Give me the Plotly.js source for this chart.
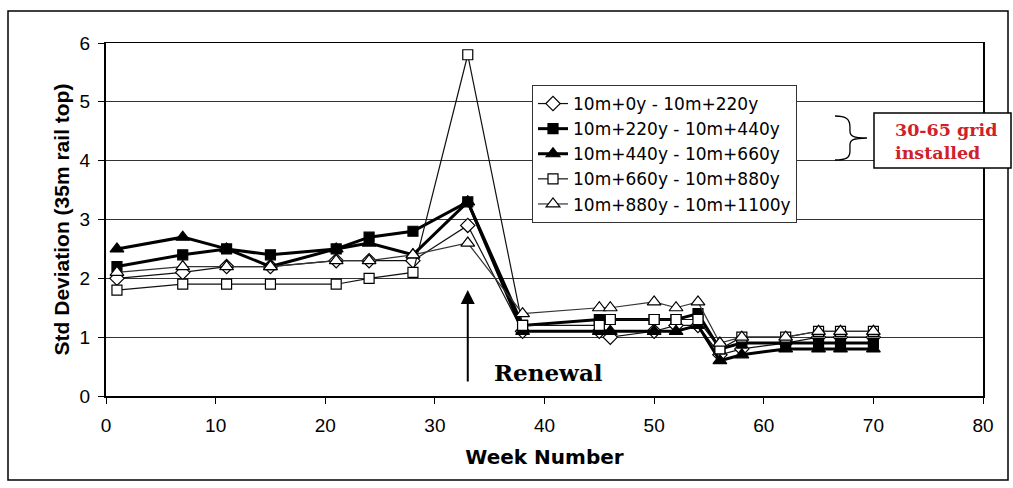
<!DOCTYPE html>
<html>
<head>
<meta charset="utf-8">
<script src="https://cdn.plot.ly/plotly-3.0.1.min.js"></script>
<style>html,body{margin:0;padding:0;background:#fff;}#chart{width:1013px;height:488px;}</style>
</head>
<body>
<div id="chart"></div>
<script>
// ---- data ----
var weeks = [1, 7, 11, 15, 21, 24, 28, 33, 38, 45, 46, 50, 52, 54, 56, 58, 62, 65, 67, 70];
var seriesNames = ["10m+0y - 10m+220y", "10m+220y - 10m+440y", "10m+440y - 10m+660y", "10m+660y - 10m+880y", "10m+880y - 10m+1100y"];
var s0to220    = [2.0, 2.1, 2.2, 2.2, 2.3, 2.3, 2.3, 2.9, 1.1, 1.1, 1.0, 1.1, 1.2, 1.2, 0.7, 0.8, 0.9, 1.0, 1.0, 1.0];
var s220to440  = [2.2, 2.4, 2.5, 2.4, 2.5, 2.7, 2.8, 3.3, 1.2, 1.3, 1.3, 1.3, 1.3, 1.4, 0.8, 0.9, 0.9, 0.9, 0.9, 0.9];
var s440to660  = [2.5, 2.7, 2.5, 2.2, 2.5, 2.6, 2.4, 3.3, 1.1, 1.1, 1.1, 1.1, 1.1, 1.2, 0.6, 0.7, 0.8, 0.8, 0.8, 0.8];
var s660to880  = [1.8, 1.9, 1.9, 1.9, 1.9, 2.0, 2.1, 5.8, 1.2, 1.2, 1.3, 1.3, 1.3, 1.3, 0.8, 1.0, 1.0, 1.1, 1.1, 1.1];
var s880to1100 = [2.1, 2.2, 2.2, 2.2, 2.3, 2.3, 2.4, 2.6, 1.4, 1.5, 1.5, 1.6, 1.5, 1.6, 0.9, 1.0, 1.0, 1.1, 1.1, 1.1];
var xTicks = [0, 10, 20, 30, 40, 50, 60, 70, 80];
var yTicks = [0, 1, 2, 3, 4, 5, 6];
var renewalWeek = 33;

// ---- layout helpers (plot area in pixels) ----
var W = 1013, H = 488, L = 106, R = 983, T = 43, B = 396;
function px(x) { return (x - L) / (R - L); }
function py(y) { return (B - y) / (B - T); }

var styles = [
  {symbol: 'diamond', fill: '#fff', size: 11, lw: 1.2, lc: '#111'},
  {symbol: 'square', fill: '#000', size: 10, lw: 3, lc: '#000'},
  {symbol: 'triangle-up', fill: '#000', size: 12, lw: 3, lc: '#000'},
  {symbol: 'square', fill: '#fff', size: 10, lw: 1.2, lc: '#111'},
  {symbol: 'triangle-up', fill: '#fff', size: 12, lw: 1.2, lc: '#333'}
];
var allSeries = [s0to220, s220to440, s440to660, s660to880, s880to1100];

var traces = allSeries.map(function (vals, i) {
  var st = styles[i];
  return {
    type: 'scatter', mode: 'lines+markers',
    x: weeks, y: vals, name: seriesNames[i],
    line: {color: st.lc, width: st.lw},
    marker: {symbol: st.symbol, size: st.size, color: st.fill, line: {color: '#000', width: 1.2}}
  };
});

// brace path in pixel coords -> paper
function P(x, y) { return px(x).toFixed(4) + ',' + py(y).toFixed(4); }
var brace = 'M' + P(835, 116) + ' C' + P(846, 116) + ' ' + P(850, 119) + ' ' + P(850, 127) +
  ' L' + P(850, 131) + ' C' + P(850, 136) + ' ' + P(853, 138) + ' ' + P(867, 138) +
  ' C' + P(853, 138) + ' ' + P(850, 140) + ' ' + P(850, 145) +
  ' L' + P(850, 151) + ' C' + P(850, 158) + ' ' + P(846, 160) + ' ' + P(835, 160);

var layout = {
  width: W, height: H,
  margin: {l: L, r: W - R, t: T, b: H - B},
  paper_bgcolor: '#fff', plot_bgcolor: '#fff',
  font: {family: 'Liberation Sans, Arial, sans-serif', color: '#000'},
  showlegend: true,
  legend: {
    x: px(532), y: py(85), xanchor: 'left', yanchor: 'top',
    bgcolor: '#fff', bordercolor: '#333', borderwidth: 1,
    font: {family: 'DejaVu Sans, sans-serif', size: 17, color: '#000'},
    tracegroupgap: 0
  },
  xaxis: {
    range: [0, 80], tickvals: xTicks, ticks: 'outside', ticklen: 6, tickcolor: '#000',
    ticklabelstandoff: 6,
    showgrid: false, zeroline: false, showline: true, linecolor: '#000', linewidth: 1.5, mirror: true,
    tickfont: {size: 19, family: 'Liberation Sans, Arial, sans-serif'},
    title: {text: 'Week Number', font: {size: 20, family: 'DejaVu Sans, sans-serif', weight: 'bold'}, standoff: 14}
  },
  yaxis: {
    range: [0, 6], tickvals: yTicks, ticks: 'outside', ticklen: 6, tickcolor: '#000',
    ticklabelstandoff: 4,
    showgrid: true, gridcolor: '#333', gridwidth: 1, zeroline: false,
    showline: true, linecolor: '#000', linewidth: 2, mirror: true,
    tickfont: {size: 19, family: 'Liberation Sans, Arial, sans-serif'},
    title: {text: 'Std Deviation (35m rail top)', font: {size: 21, family: 'Liberation Sans, Arial, sans-serif', weight: 'bold'}, standoff: 4}
  },
  shapes: [
    {type: 'rect', xref: 'paper', yref: 'paper', x0: px(8), x1: px(1008), y0: py(480), y1: py(11),
     line: {color: '#000', width: 1.5}, fillcolor: 'rgba(0,0,0,0)', layer: 'below'},
    {type: 'rect', xref: 'paper', yref: 'paper', x0: px(874), x1: px(1011), y0: py(168), y1: py(113),
     line: {color: '#000', width: 1.5}, fillcolor: '#fff'},
    {type: 'path', xref: 'paper', yref: 'paper', path: brace, line: {color: '#000', width: 1.3}}
  ],
  annotations: [
    {x: renewalWeek, y: (B - 290) / ((B - T) / 6), xref: 'x', yref: 'y',
     ax: renewalWeek, ay: (B - 383) / ((B - T) / 6), axref: 'x', ayref: 'y',
     showarrow: true, arrowhead: 2, arrowsize: 1.4, arrowwidth: 2, arrowcolor: '#000', text: ''},
    {x: px(492), y: py(372), xref: 'paper', yref: 'paper', xanchor: 'left', yanchor: 'middle', showarrow: false,
     text: '<b>Renewal</b>', font: {family: 'DejaVu Serif, serif', size: 23, color: '#000'}},
    {x: px(893), y: py(141), xref: 'paper', yref: 'paper', xanchor: 'left', yanchor: 'middle', showarrow: false,
     align: 'left', text: '<b>30-65 grid<br>installed</b>',
     font: {family: 'DejaVu Serif, serif', size: 17.5, color: '#d0202a'}}
  ]
};

Plotly.newPlot('chart', traces, layout, {displayModeBar: false, staticPlot: true});
</script>
</body>
</html>
